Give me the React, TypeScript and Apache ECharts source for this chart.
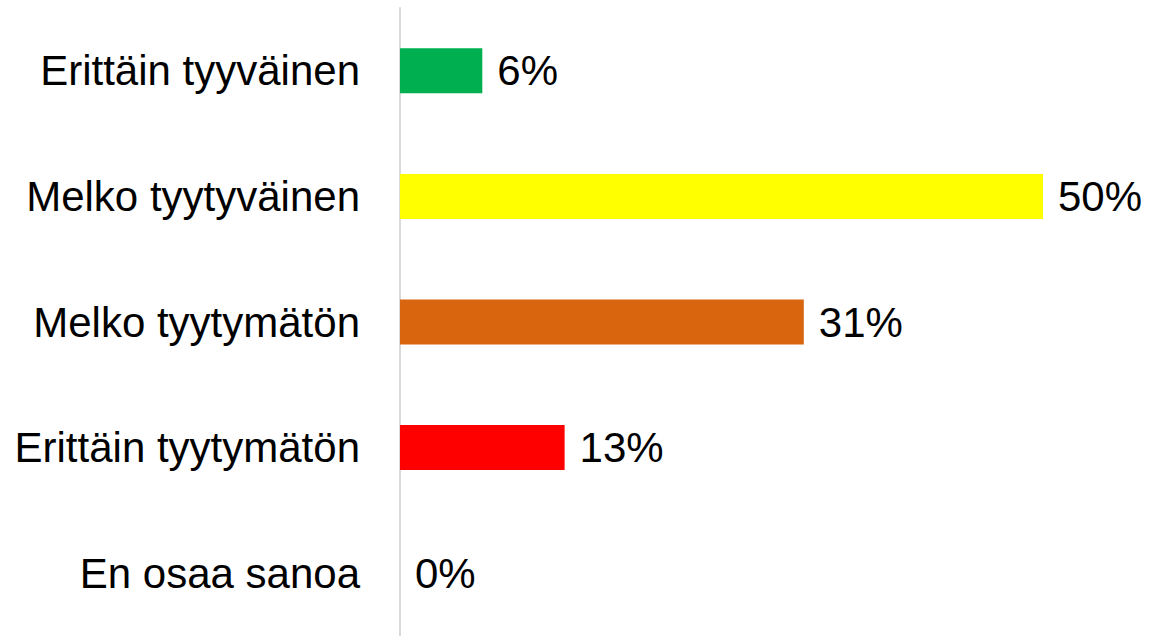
import React, { useEffect, useRef } from "react";
import * as echarts from "echarts";

const categories = [
  "Erittäin tyyväinen",
  "Melko tyytyväinen",
  "Melko tyytymätön",
  "Erittäin tyytymätön",
  "En osaa sanoa",
];
const values = [6.4, 50, 31.4, 12.8, 0];
const colors = ["#00b050", "#ffff00", "#d9650e", "#ff0000", "#a5a5a5"];

export default function App() {
  const ref = useRef<HTMLDivElement>(null);
  useEffect(() => {
    if (!ref.current) return;
    const chart = echarts.init(ref.current, null, { renderer: "svg" });
    const font = "'Liberation Sans', Arial, sans-serif";
    chart.setOption({
      animation: false,
      backgroundColor: "#ffffff",
      grid: { left: 400, right: 42.7, top: 8, bottom: -6, containLabel: false },
      xAxis: {
        type: "value",
        min: 0,
        max: 55,
        show: false,
      },
      yAxis: {
        type: "category",
        inverse: true,
        data: categories,
        axisLine: { show: true, lineStyle: { color: "#d9d9d9", width: 2 } },
        axisTick: { show: false },
        axisLabel: {
          margin: 40,
          fontSize: 42,
          color: "#000000",
          fontFamily: font,
        },
        splitLine: { show: false },
      },
      series: [
        {
          type: "bar",
          barWidth: 45,
          data: values.map((v, i) => ({ value: v, itemStyle: { color: colors[i] } })),
          label: {
            show: true,
            position: "right",
            distance: 15,
            fontSize: 42,
            color: "#000000",
            fontFamily: font,
            formatter: (p: any) => Math.round(p.value) + "%",
          },
        },
      ],
    });
    return () => chart.dispose();
  }, []);
  return (
    <div
      ref={ref}
      style={{ position: "fixed", left: 0, top: 0, width: 1150, height: 636 }}
    />
  );
}
